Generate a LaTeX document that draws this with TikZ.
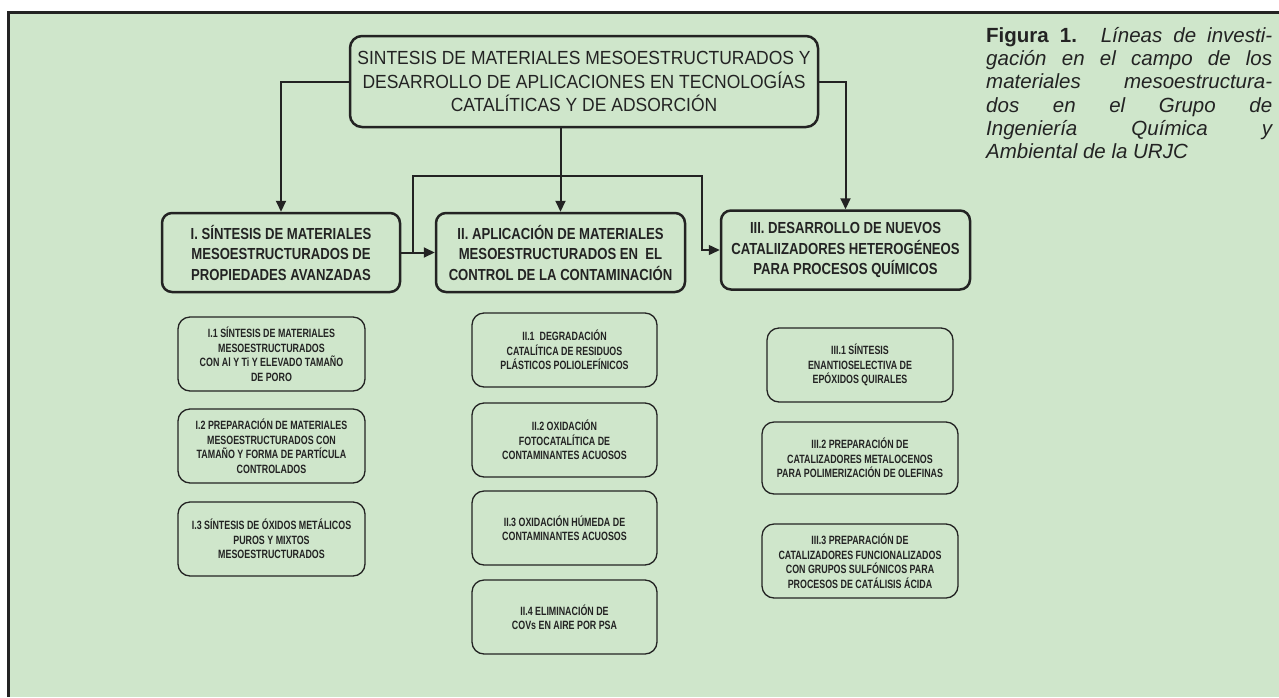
\documentclass[tikz,border=0pt]{standalone}
\usepackage{fontspec}
\setmainfont{Liberation Sans}
\newfontfamily\narrowsf{Liberation Sans}[FakeStretch=0.92]
\newfontfamily\condsf{Liberation Sans}[FakeStretch=0.82]
\newfontfamily\tinysf{Liberation Sans}[FakeStretch=0.74]
\usetikzlibrary{arrows.meta}
\definecolor{paper}{RGB}{207,230,203}
\definecolor{ink}{RGB}{35,35,35}
\begin{document}
\begin{tikzpicture}[x=1pt,y=-1pt,
    mainbox/.style={draw=ink,line width=2.5pt,rounded corners=12pt,fill=paper,text=ink,
      align=center,minimum width=468,minimum height=91,
      font=\narrowsf\fontsize{19}{23.5}\selectfont},
    linebox/.style={draw=ink,line width=2.5pt,rounded corners=10pt,fill=paper,text=ink,
      align=center,minimum height=79,font=\condsf\bfseries\fontsize{16}{20.5}\selectfont},
    topicbox/.style={draw=ink,line width=1.3pt,rounded corners=12pt,text=ink,inner sep=1pt,
      align=center,minimum height=74,font=\tinysf\bfseries\fontsize{12}{14.5}\selectfont},
    arr/.style={draw=ink,line width=2pt,-{Triangle[length=11pt,width=10pt]}},
    link/.style={draw=ink,line width=1.4pt,-{Triangle[length=11pt,width=10pt]}}]
  \useasboundingbox (0,0) rectangle (1279,697);
  % paper and frame
  \fill[white] (0,0) rectangle (1279,697);
  \fill[paper] (10,14) rectangle (1279,697);
  \draw[ink,line width=2.8pt] (8.6,697) -- (8.6,12.8) -- (1279,12.8);

  \node[mainbox] (main) at (584,81.5)
    {SINTESIS DE MATERIALES MESOESTRUCTURADOS Y\\DESARROLLO DE APLICACIONES EN TECNOLOGÍAS\\CATALÍTICAS Y DE ADSORCIÓN};

  % research lines
  \node[linebox,minimum width=238] (lineI) at (281,252.5)
    {I. SÍNTESIS DE MATERIALES\\MESOESTRUCTURADOS DE\\PROPIEDADES AVANZADAS};
  \node[linebox,minimum width=249] (lineII) at (560.5,252.5)
    {II. APLICACIÓN DE MATERIALES\\MESOESTRUCTURADOS EN \ EL\\CONTROL DE LA CONTAMINACIÓN};
  \node[linebox,minimum width=249] (lineIII) at (845.5,250)
    {III. DESARROLLO DE NUEVOS\\CATALIIZADORES HETEROGÉNEOS\\PARA PROCESOS QUÍMICOS};

  \draw[arr] (main.west) -| (lineI.north);
  \draw[arr] (main.south -| lineII.north) -- (lineII.north);
  \draw[arr] (main.east) -| (lineIII.north);
  \draw[arr] (lineI.east) -- (lineII.west);
  \coordinate (split) at (413,252.5);
  \coordinate (bend) at (702,176);
  \draw[link] (split) |- (bend) |- (lineIII.west);

  % topics of line I
  \node[topicbox,minimum width=187] (subI1) at (271.5,354)
    {I.1 SÍNTESIS DE MATERIALES\\MESOESTRUCTURADOS\\CON Al Y Ti Y ELEVADO TAMAÑO\\DE PORO};
  \node[topicbox,minimum width=187] (subI2) at (271.5,446)
    {I.2 PREPARACIÓN DE MATERIALES\\MESOESTRUCTURADOS CON\\TAMAÑO Y FORMA DE PARTÍCULA\\CONTROLADOS};
  \node[topicbox,minimum width=187] (subI3) at (271.5,539)
    {I.3 SÍNTESIS DE ÓXIDOS METÁLICOS\\PUROS Y MIXTOS\\MESOESTRUCTURADOS};

  % topics of line II
  \node[topicbox,minimum width=185] (subII1) at (564.5,350)
    {II.1 \ DEGRADACIÓN\\CATALÍTICA DE RESIDUOS\\PLÁSTICOS POLIOLEFÍNICOS};
  \node[topicbox,minimum width=185] (subII2) at (564.5,440)
    {II.2 OXIDACIÓN\\FOTOCATALÍTICA DE\\CONTAMINANTES ACUOSOS};
  \node[topicbox,minimum width=185] (subII3) at (564.5,528)
    {II.3 OXIDACIÓN HÚMEDA DE\\CONTAMINANTES ACUOSOS};
  \node[topicbox,minimum width=185] (subII4) at (564.5,617)
    {II.4 ELIMINACIÓN DE\\COVs EN AIRE POR PSA};

  % topics of line III
  \node[topicbox,minimum width=186] (subIII1) at (860,365)
    {III.1 SÍNTESIS\\ENANTIOSELECTIVA DE\\EPÓXIDOS QUIRALES};
  \node[topicbox,minimum width=196,minimum height=72] (subIII2) at (860,458)
    {III.2 PREPARACIÓN DE\\CATALIZADORES METALOCENOS\\PARA POLIMERIZACIÓN DE OLEFINAS};
  \node[topicbox,minimum width=196] (subIII3) at (860,561)
    {III.3 PREPARACIÓN DE\\CATALIZADORES FUNCIONALIZADOS\\CON GRUPOS SULFÓNICOS PARA\\PROCESOS DE CATÁLISIS ÁCIDA};

  % caption
  \node[anchor=north west,inner sep=0pt,text width=286,align=justify,text=ink,
    font=\fontsize{20.5}{23.3}\selectfont] (caption) at (986,27)
    {\textbf{Figura 1.} \textit{Líneas de investi-\linebreak gación en el campo de los\linebreak
     materiales mesoestructura-\linebreak dos en el Grupo de\linebreak
     Ingeniería Química y\linebreak Ambiental de la URJC}};
\end{tikzpicture}
\end{document}
